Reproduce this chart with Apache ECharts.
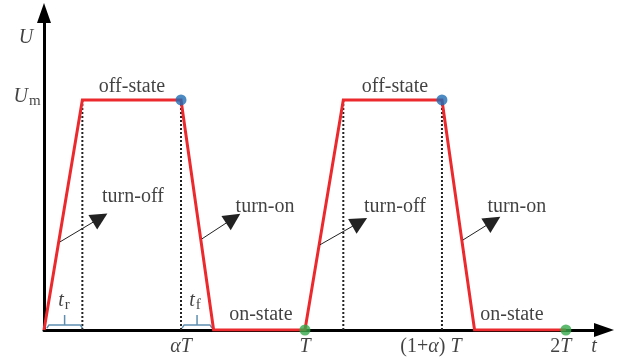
<!DOCTYPE html>
<html>
<head>
<meta charset="utf-8">
<script src="https://cdn.jsdelivr.net/npm/echarts@6/dist/echarts.min.js"></script>
<style>
  html, body { margin: 0; padding: 0; background: #fff; }
  #chart { width: 620px; height: 362px; }
</style>
</head>
<body>
<div id="chart"></div>
<script>
// Trapezoidal switching voltage over two periods (time in units of T, voltage in units of Um)
const waveT = [0, 0.147, 0.525, 0.65, 1, 1.147, 1.525, 1.65, 2];
const waveU = [0, 1, 1, 0, 0, 1, 1, 0, 0];

// Switching instants: end of off-state (blue) and period boundaries (green)
const offEndIdx = [2, 6];
const periodIdx = [4, 8];

// Dotted guides at the corners of each plateau
const guideIdx = [1, 2, 5, 6];

// Time-axis tick labels (rich text) and their positions
const tickPos = [0.525, 1, 1.525, 2];
const tickText = ['{i|αT}', '{i|T}', '{n|(1+}{i|α}{n|) }{i|T}', '{n|2}{i|T}'];
const tickShift = [0, 0, -11, -5];

// State annotations: [t, U, text]
const stateNotes = [
  [0.337, 1.057, 'off-state'],
  [1.345, 1.057, 'off-state'],
  [0.831, 0.065, 'on-state'],
  [1.793, 0.065, 'on-state'],
  [0.341, 0.578, 'turn-off'],
  [0.847, 0.535, 'turn-on'],
  [1.345, 0.535, 'turn-off'],
  [1.812, 0.535, 'turn-on']
];

// Pointer arrows from the edges to their notes
const arrowFrom = [[0.0613, 0.383], [0.605, 0.396], [1.057, 0.370], [1.605, 0.391]];
const arrowTo = [[0.215, 0.487], [0.725, 0.485], [1.210, 0.469], [1.721, 0.473]];

const serif = 'Liberation Serif, Times New Roman, serif';
const richStyles = {
  i: { fontFamily: serif, fontStyle: 'italic', fontSize: 20, color: '#111' },
  n: { fontFamily: serif, fontSize: 20, color: '#111' },
  s: { fontFamily: serif, fontSize: 15, color: '#111', verticalAlign: 'bottom', padding: [8, 0, 0, 1] }
};

function pt(i) { return [waveT[i], waveU[i]]; }

// Brace spanning [a, b] just above the time axis
function brace(a, b) {
  const m = (a + b) / 2, lo = 0.008, hi = 0.022, tip = 0.065, c = 0.008;
  return [[a, lo], [a + c, hi], [m, hi], [m, tip], [m, hi], [b - c, hi], [b, lo]];
}
const riseBrace = brace(waveT[0] + 0.011, waveT[1]);
const fallBrace = brace(waveT[2] + 0.004, waveT[3] - 0.006);

const series = [];

guideIdx.forEach(function (i) {
  series.push({
    type: 'line', data: [[waveT[i], 0], pt(i)], symbol: 'none', silent: true, z: 1,
    lineStyle: { color: '#222', width: 2, type: [2, 2] }
  });
});

[riseBrace, fallBrace].forEach(function (b) {
  series.push({
    type: 'line', data: b, symbol: 'none', z: 2,
    lineStyle: { color: '#5f8fb0', width: 1.5 }
  });
});

series.push({
  type: 'line', name: 'U', data: waveT.map(function (t, i) { return [t, waveU[i]]; }),
  symbol: 'none', z: 4,
  lineStyle: { color: '#ec2a2e', width: 3, join: 'miter' }
});

series.push({
  type: 'scatter', data: offEndIdx.map(pt), symbolSize: 11, z: 5,
  itemStyle: { color: '#1f6db4' }
});
series.push({
  type: 'scatter', data: periodIdx.map(pt), symbolSize: 11, z: 5,
  itemStyle: { color: '#34a94a' }
});

series.push({
  type: 'lines', coordinateSystem: 'cartesian2d', z: 6,
  symbol: ['none', 'triangle'], symbolSize: [12, 17],
  lineStyle: { color: '#222', width: 1, opacity: 1 },
  itemStyle: { color: '#000' },
  data: arrowFrom.map(function (f, k) { return { coords: [f, arrowTo[k]] }; })
});

// Text annotations
series.push({
  type: 'scatter', symbolSize: 0, z: 7, silent: true,
  data: stateNotes.map(function (n) { return { value: [n[0], n[1]], name: n[2] }; }),
  label: {
    show: true, position: 'inside', formatter: '{b}',
    fontFamily: serif, fontSize: 20, color: '#111'
  }
});

series.push({
  type: 'scatter', symbolSize: 0, z: 7, silent: true,
  data: [
    { value: [0.0766, 0.126], name: '{i|t}{s|r}' },
    { value: [0.579, 0.126], name: '{i|t}{s|f}' }
  ],
  label: { show: true, position: 'inside', formatter: '{b}', rich: richStyles }
});

series.push({
  type: 'scatter', symbolSize: 0, z: 7, silent: true,
  data: tickPos.map(function (t, k) {
    return { value: [t, 0], name: tickText[k], label: { offset: [tickShift[k], 17] } };
  }).concat([{ value: [2.146, 0], name: '{i|t}', label: { offset: [-10, 17] } }]),
  label: { show: true, position: 'inside', formatter: '{b}', rich: richStyles }
});

series.push({
  type: 'scatter', symbolSize: 0, z: 7, silent: true,
  data: [
    { value: [0, 1.278], name: '{i|U}', label: { offset: [-18, 2] } },
    { value: [0, 1], name: '{i|U}{s|m}', label: { offset: [-17, -3] } }
  ],
  label: { show: true, position: 'inside', formatter: '{b}', rich: richStyles }
});

const axisCommon = {
  type: 'value', splitLine: { show: false }, axisTick: { show: false },
  axisLabel: { show: false },
  axisLine: { show: true, onZero: false, lineStyle: { color: '#000', width: 3 } }
};

const chart = echarts.init(document.getElementById('chart'), null, { renderer: 'canvas' });
chart.setOption({
  animation: false,
  backgroundColor: '#fff',
  grid: { left: 44, right: 16, top: 13, bottom: 32, containLabel: false },
  xAxis: Object.assign({}, axisCommon, {
    min: 0, max: 2.146,
    axisLine: Object.assign({}, axisCommon.axisLine, { symbol: ['none', 'triangle'], symbolSize: [14, 20] })
  }),
  yAxis: Object.assign({}, axisCommon, {
    min: 0, max: 1.378,
    axisLine: Object.assign({}, axisCommon.axisLine, { symbol: ['none', 'triangle'], symbolSize: [14, 20] })
  }),
  series: series
});
</script>
</body>
</html>
